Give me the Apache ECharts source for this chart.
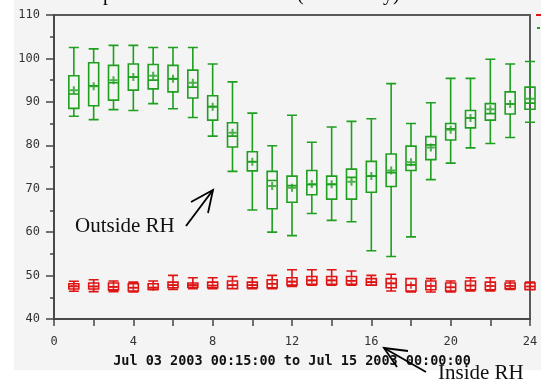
<!DOCTYPE html>
<html><head><meta charset="utf-8">
<script src="https://cdn.jsdelivr.net/npm/echarts@6/dist/echarts.min.js"></script>
<style>html,body{margin:0;padding:0;background:#fff}#c{width:541px;height:385px}</style>
</head><body><div id="c"></div>
<script>
const hours = [1,2,3,4,5,6,7,8,9,10,11,12,13,14,15,16,17,18,19,20,21,22,23,24];
const xTicks = [0,4,8,12,16,20,24];
const yTicks = [40,50,60,70,80,90,100,110];
// Outside RH (green)
const outMin  = [86.7,85.9,88.2,88.0,89.6,88.4,86.4,82.1,74.0,65.1,60.0,59.2,64.3,62.7,62.4,55.7,54.4,58.9,72.1,75.9,79.4,80.4,81.8,85.3];
const outQ1   = [88.5,89.1,90.4,92.7,93.0,92.3,90.9,85.8,79.6,74.1,65.4,66.9,68.6,67.6,67.6,69.2,70.5,74.2,76.7,81.2,84.0,85.8,87.2,88.3];
const outMed  = [91.8,93.7,94.4,95.7,95.0,95.3,93.4,88.9,82.1,76.2,71.9,70.7,70.9,71.0,72.6,72.9,73.7,75.5,80.1,83.8,86.3,87.3,89.5,89.7];
const outQ3   = [96.0,99.0,98.4,98.7,98.6,98.4,97.3,91.4,85.2,78.5,74.0,72.9,74.2,72.9,74.5,76.3,78.0,79.8,82.0,85.0,88.0,89.6,92.3,93.4];
const outMax  = [102.5,102.2,103.0,103.0,102.5,102.5,102.5,98.7,94.6,87.4,79.9,86.9,80.7,84.2,85.5,86.1,94.2,85.0,89.8,95.4,95.4,99.8,98.7,99.3];
const outMean = [92.7,93.6,95.0,95.7,96.0,95.3,94.4,88.9,82.9,76.2,70.6,70.2,71.1,71.0,71.6,72.9,74.2,76.1,79.5,83.6,86.3,88.3,89.5,90.7];
// Inside RH (red)
const inMin  = [46.4,46.3,46.3,46.2,46.75,46.8,47.0,47.0,47.0,47.0,47.0,47.5,47.8,47.8,47.8,47.8,46.45,46.2,46.2,46.2,46.45,46.45,46.8,46.75];
const inQ1   = [46.9,46.9,46.7,46.45,46.8,47.2,47.3,47.2,47.0,47.2,47.2,47.8,48.0,48.0,48.0,47.8,47.2,46.45,46.75,46.45,46.75,46.75,47.0,46.8];
const inMed  = [47.5,47.5,47.4,47.2,47.2,47.8,47.8,47.7,47.8,47.8,48.1,48.6,48.9,48.9,48.8,48.5,48.2,47.8,47.6,47.3,47.7,47.6,47.6,47.5];
const inQ3   = [48.1,48.3,48.3,48.1,48.1,48.5,48.3,48.5,48.75,48.5,49.05,49.5,49.8,49.8,49.8,49.3,49.3,49.3,48.75,48.3,48.75,48.5,48.3,48.3];
const inMax  = [48.7,49.05,48.75,48.5,48.75,50.05,49.5,49.5,49.8,49.5,50.05,51.35,51.35,51.35,51.05,50.05,50.3,49.3,49.3,48.75,49.5,49.5,48.75,48.5];
const inMean = [47.6,47.5,47.4,47.2,47.3,47.8,47.8,47.7,47.8,47.8,48.1,48.6,48.9,48.9,48.8,48.5,48.2,47.8,47.6,47.3,47.7,47.6,47.6,47.5];

const GREEN = '#1f9f1f', RED = '#dd1414';
const boxData = [];
hours.forEach((h,i)=>boxData.push({value:[h,outMin[i],outQ1[i],outMed[i],outQ3[i],outMax[i]],itemStyle:{borderColor:GREEN,color:'rgba(0,0,0,0)'}}));
hours.forEach((h,i)=>boxData.push({value:[h,inMin[i],inQ1[i],inMed[i],inQ3[i],inMax[i]],itemStyle:{borderColor:RED,color:'rgba(0,0,0,0)'}}));
const plus = 'path://M3,0H5V3H8V5H5V8H3V5H0V3H3Z';

const chart = echarts.init(document.getElementById('c'));
chart.setOption({
  animation:false,
  backgroundColor:'#ffffff',
  grid:{left:54,right:11,top:15,bottom:66,show:true,borderColor:'#5a5a5a',borderWidth:2,backgroundColor:'transparent'},
  xAxis:{type:'value',min:0,max:24,interval:2,
    axisLine:{lineStyle:{color:'#444',width:1.5}},
    axisTick:{length:7,lineStyle:{color:'#444',width:1.5}},
    splitLine:{show:false},
    axisLabel:{margin:17,color:'#333',fontFamily:'DejaVu Sans Mono',fontSize:12,
      formatter:v=>xTicks.indexOf(v)>=0?String(v):''}},
  yAxis:{type:'value',min:40,max:110,interval:10,
    axisLine:{show:true,lineStyle:{color:'#444',width:1.5}},
    axisTick:{show:true,length:8,lineStyle:{color:'#444',width:1.5}},
    minorTick:{show:true,splitNumber:2,length:4,lineStyle:{color:'#444',width:1.5}},
    splitLine:{show:false},
    axisLabel:{margin:14,color:'#333',fontFamily:'DejaVu Sans Mono',fontSize:12,
      formatter:v=>yTicks.indexOf(v)>=0?String(v):''}},
  series:[
    {type:'boxplot',data:boxData,boxWidth:[10,10],itemStyle:{borderWidth:1.6},emphasis:{disabled:true},silent:true},
    {type:'scatter',data:hours.map((h,i)=>[h,outMean[i]]),symbol:plus,symbolSize:8,itemStyle:{color:GREEN},silent:true,z:5},
    {type:'scatter',data:hours.map((h,i)=>[h,inMean[i]]),symbol:plus,symbolSize:7,itemStyle:{color:RED},silent:true,z:5}
  ],
  graphic:[
    {type:'rect',z:-100,silent:true,shape:{x:14,y:0,width:527,height:370},style:{fill:'#f4f4f4'}},
    {type:'rect',silent:true,shape:{x:536,y:14,width:5,height:2},style:{fill:RED}},
    {type:'rect',silent:true,shape:{x:537,y:27,width:3,height:2},style:{fill:GREEN}},
    {type:'text',silent:true,style:{text:'p',x:103,y:-5,font:'20px "Liberation Serif"',fill:'#000',verticalAlign:'middle'}},
    {type:'text',silent:true,style:{text:'(',x:297,y:-5,font:'20px "Liberation Serif"',fill:'#000',verticalAlign:'middle'}},
    {type:'text',silent:true,style:{text:'y)',x:383,y:-5,font:'20px "Liberation Serif"',fill:'#000',verticalAlign:'middle'}},
    {type:'text',silent:true,style:{text:'Jul 03 2003 00:15:00 to Jul 15 2003 00:00:00',x:292,y:361,font:'bold 13.5px "DejaVu Sans Mono"',fill:'#111',align:'center',verticalAlign:'middle'}},
    {type:'text',silent:true,style:{text:'Outside RH',x:75,y:226,font:'21px "Liberation Serif"',fill:'#111',verticalAlign:'middle'}},
    {type:'text',silent:true,style:{text:'Inside RH',x:438,y:373,font:'21px "Liberation Serif"',fill:'#111',verticalAlign:'middle'}},
    {type:'polyline',silent:true,shape:{points:[[186,226],[213,190]]},style:{stroke:'#000',lineWidth:1.8}},
    {type:'polyline',silent:true,shape:{points:[[191,202],[213,190],[208,213]]},style:{stroke:'#000',lineWidth:1.8,fill:null}},
    {type:'polyline',silent:true,shape:{points:[[426,372],[384,348]]},style:{stroke:'#000',lineWidth:1.8}},
    {type:'polyline',silent:true,shape:{points:[[397,367],[384,348],[408,351]]},style:{stroke:'#000',lineWidth:1.8,fill:null}}
  ]
});
</script></body></html>
